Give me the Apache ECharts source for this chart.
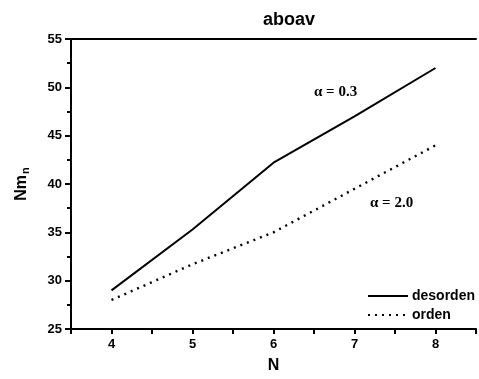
<!DOCTYPE html>
<html>
<head>
<meta charset="utf-8">
<script src="https://cdn.jsdelivr.net/npm/echarts@6/dist/echarts.min.js"></script>
<style>
html,body{margin:0;padding:0;background:#fff;}
#chart{width:479px;height:379px;}
</style>
</head>
<body>
<div id="chart"></div>
<script>
// N values along the x axis
var nValues = [4, 5, 6, 7, 8];
// Nm_n for the disordered and ordered cases
var desorden = [29.0, 35.3, 42.2, 47.0, 52.0];
var orden = [28.0, 31.7, 35.0, 39.5, 44.0];
var seriesNames = ['desorden', 'orden'];

function pairs(xs, ys) {
  return xs.map(function (x, i) { return [x, ys[i]]; });
}

var chart = echarts.init(document.getElementById('chart'));
var bold = {fontFamily: 'Liberation Sans, Arial, sans-serif', fontWeight: 'bold', color: '#000'};

chart.setOption({
  animation: false,
  backgroundColor: '#fff',
  title: {
    text: 'aboav',
    left: 284,
    textAlign: 'center',
    top: 6,
    textStyle: Object.assign({fontSize: 18}, bold)
  },
  grid: {left: 71, right: 0, top: 39, bottom: 48},
  legend: {
    data: seriesNames,
    orient: 'vertical',
    left: 362,
    top: 284,
    itemWidth: 40,
    itemHeight: 8,
    itemGap: 5,
    itemStyle: {opacity: 0},
    textStyle: Object.assign({fontSize: 14, padding: [0, 0, 0, -1]}, bold)
  },
  xAxis: [{
    type: 'value',
    min: 3.5,
    max: 8.5,
    interval: 0.5,
    name: 'N',
    nameLocation: 'middle',
    nameGap: 29,
    nameTextStyle: Object.assign({fontSize: 16}, bold),
    axisLine: {lineStyle: {color: '#000', width: 2}},
    axisTick: {show: true, inside: false, length: 5, lineStyle: {color: '#000', width: 2}},
    axisLabel: Object.assign({
      fontSize: 13,
      margin: 9,
      formatter: function (v) { return Number.isInteger(v) ? String(v) : ''; }
    }, bold),
    splitLine: {show: false}
  }, {
    type: 'value',
    position: 'top',
    min: 3.5,
    max: 8.5,
    axisLine: {lineStyle: {color: '#000', width: 2}},
    axisTick: {show: false},
    axisLabel: {show: false},
    splitLine: {show: false}
  }],
  yAxis: {
    type: 'value',
    min: 25,
    max: 55,
    interval: 5,
    name: 'Nm{sub|n}',
    nameLocation: 'middle',
    nameGap: 40,
    nameRotate: 90,
    nameTextStyle: Object.assign({
      fontSize: 16,
      rich: {sub: Object.assign({fontSize: 11, verticalAlign: 'bottom', padding: [8, 0, 0, 1]}, bold)}
    }, bold),
    axisLine: {lineStyle: {color: '#000', width: 2}},
    axisTick: {show: true, inside: false, length: 6, lineStyle: {color: '#000', width: 2}},
    minorTick: {show: true, splitNumber: 2, length: 4, lineStyle: {color: '#000', width: 2}},
    axisLabel: Object.assign({fontSize: 13, margin: 9}, bold),
    splitLine: {show: false}
  },
  graphic: [
    {type: 'text', left: 314, top: 85,
      style: {text: 'α = 0.3', font: 'bold 15px "Liberation Serif", "Times New Roman", serif', fill: '#000'}},
    {type: 'text', left: 370, top: 196,
      style: {text: 'α = 2.0', font: 'bold 15px "Liberation Serif", "Times New Roman", serif', fill: '#000'}}
  ],
  series: [{
    name: seriesNames[0],
    type: 'line',
    data: pairs(nValues, desorden),
    symbol: 'none',
    lineStyle: {color: '#000', width: 2, type: 'solid'},
    itemStyle: {color: '#000'}
  }, {
    name: seriesNames[1],
    type: 'line',
    data: pairs(nValues, orden),
    symbol: 'none',
    lineStyle: {color: '#000', width: 2.4, type: [2, 5]},
    itemStyle: {color: '#000'}
  }]
});
</script>
</body>
</html>
